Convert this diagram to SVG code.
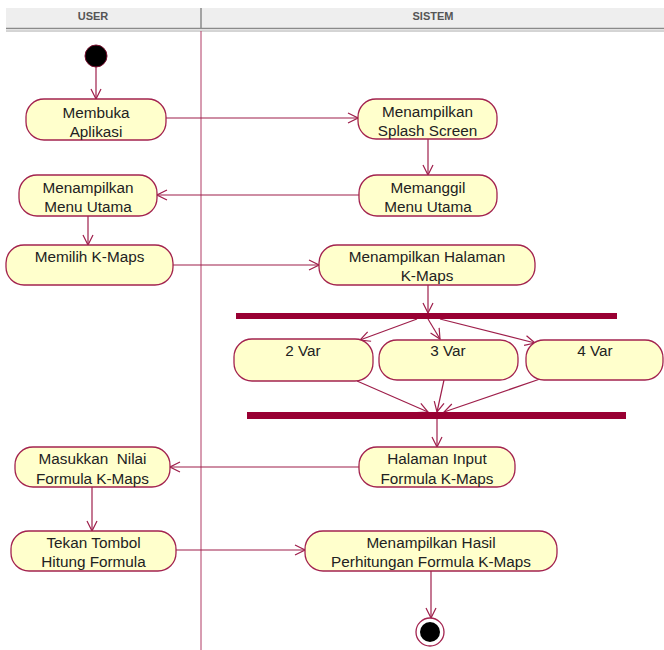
<svg xmlns="http://www.w3.org/2000/svg" width="664" height="650" viewBox="0 0 664 650">
<style>
.node rect{fill:#ffffcc;stroke:#a3234f;stroke-width:1.3}
.node text{font-family:"Liberation Sans",Arial,sans-serif;font-size:15.3px;fill:#222;text-anchor:middle}
.hdr{font-family:"Liberation Sans",Arial,sans-serif;font-size:11px;font-weight:bold;fill:#555;text-anchor:middle}
.edge{stroke:#9e1f4b;stroke-width:1.2;fill:none;marker-end:url(#arr)}
.bar{fill:#990033}
</style>
<defs>
<marker id="arr" markerWidth="12" markerHeight="12" refX="11" refY="6" orient="auto" markerUnits="userSpaceOnUse">
<path d="M1,1 L11,6 L1,11" fill="none" stroke="#9e1f4b" stroke-width="1.2"/>
</marker>
</defs>
<rect width="664" height="650" fill="#ffffff"/>
<g id="swimlanes">
<rect x="6" y="8" width="658" height="20" fill="#eeeeee"/>
<line x1="6" y1="28.5" x2="664" y2="28.5" stroke="#8a8a8a" stroke-width="1.5"/>
<line x1="6" y1="31" x2="664" y2="31" stroke="#aaaaaa" stroke-width="1"/>
<line x1="201" y1="8" x2="201" y2="28" stroke="#8a8a8a" stroke-width="1.5"/>
<line x1="201" y1="31" x2="201" y2="650" stroke="#b03a65" stroke-width="1"/>
<text class="hdr" x="93" y="19.5">USER</text>
<text class="hdr" x="433" y="19.5">SISTEM</text>
</g>
<g id="connectors">
<line class="edge" x1="96" y1="67" x2="96" y2="99"/>
<line class="edge" x1="166" y1="118" x2="358" y2="118"/>
<line class="edge" x1="428" y1="139" x2="428" y2="175"/>
<line class="edge" x1="359" y1="195" x2="157" y2="195"/>
<line class="edge" x1="88" y1="216" x2="88" y2="245"/>
<line class="edge" x1="173" y1="265" x2="319" y2="265"/>
<line class="edge" x1="428" y1="285" x2="428" y2="313"/>
<line class="edge" x1="417" y1="319" x2="360" y2="340"/>
<line class="edge" x1="428" y1="319" x2="440" y2="339"/>
<line class="edge" x1="440" y1="319" x2="535" y2="343"/>
<line class="edge" x1="357" y1="381" x2="428" y2="412"/>
<line class="edge" x1="444" y1="380" x2="437" y2="412"/>
<line class="edge" x1="540" y1="379" x2="444" y2="412"/>
<line class="edge" x1="437" y1="419" x2="437" y2="447"/>
<line class="edge" x1="359" y1="467" x2="170" y2="467"/>
<line class="edge" x1="92" y1="487" x2="92" y2="531"/>
<line class="edge" x1="176" y1="550" x2="305" y2="550"/>
<line class="edge" x1="431" y1="571" x2="431" y2="618"/>
</g>
<g id="start"><circle cx="96" cy="56" r="11" fill="#000" stroke="#7a1030" stroke-width="1"/></g>
<g id="n-membuka" class="node"><rect x="26" y="99" width="140" height="41" rx="18"/><text x="96" y="118">Membuka</text><text x="96" y="137">Aplikasi</text></g>
<g id="n-splash" class="node"><rect x="358" y="99" width="139" height="40" rx="18"/><text x="427.5" y="117">Menampilkan</text><text x="427.5" y="136">Splash Screen</text></g>
<g id="n-memanggil" class="node"><rect x="359" y="175" width="138" height="41" rx="18"/><text x="428" y="193">Memanggil</text><text x="428" y="212">Menu Utama</text></g>
<g id="n-menu" class="node"><rect x="19" y="175" width="138" height="41" rx="18"/><text x="88" y="193">Menampilkan</text><text x="88" y="212">Menu Utama</text></g>
<g id="n-memilih" class="node"><rect x="6" y="245" width="167" height="40" rx="18"/><text x="89.5" y="262">Memilih K-Maps</text></g>
<g id="n-halaman" class="node"><rect x="319" y="245" width="216" height="40" rx="18"/><text x="427" y="262">Menampilkan Halaman</text><text x="427" y="281">K-Maps</text></g>
<g id="fork"><rect class="bar" x="236" y="313" width="381" height="6"/></g>
<g id="n-2var" class="node"><rect x="234" y="339" width="139" height="42" rx="18"/><text x="303" y="356">2 Var</text></g>
<g id="n-3var" class="node"><rect x="379" y="340" width="139" height="40" rx="18"/><text x="448" y="356">3 Var</text></g>
<g id="n-4var" class="node"><rect x="526" y="340" width="137" height="40" rx="18"/><text x="595" y="356">4 Var</text></g>
<g id="join"><rect class="bar" x="247" y="412" width="379" height="7"/></g>
<g id="n-input" class="node"><rect x="359" y="447" width="156" height="40" rx="18"/><text x="437" y="464">Halaman Input</text><text x="437" y="484">Formula K-Maps</text></g>
<g id="n-masukkan" class="node"><rect x="15" y="447" width="155" height="40" rx="18"/><text x="92.5" y="464" xml:space="preserve">Masukkan  Nilai</text><text x="92.5" y="484">Formula K-Maps</text></g>
<g id="n-tekan" class="node"><rect x="11" y="531" width="165" height="40" rx="18"/><text x="93.5" y="548">Tekan Tombol</text><text x="93.5" y="567">Hitung Formula</text></g>
<g id="n-hasil" class="node"><rect x="305" y="531" width="252" height="40" rx="18"/><text x="431" y="548">Menampilkan Hasil</text><text x="431" y="567">Perhitungan Formula K-Maps</text></g>
<g id="end"><circle cx="430" cy="632" r="14" fill="#fff" stroke="#a3234f" stroke-width="1.3"/><circle cx="430" cy="632" r="10" fill="#000"/></g>
</svg>
